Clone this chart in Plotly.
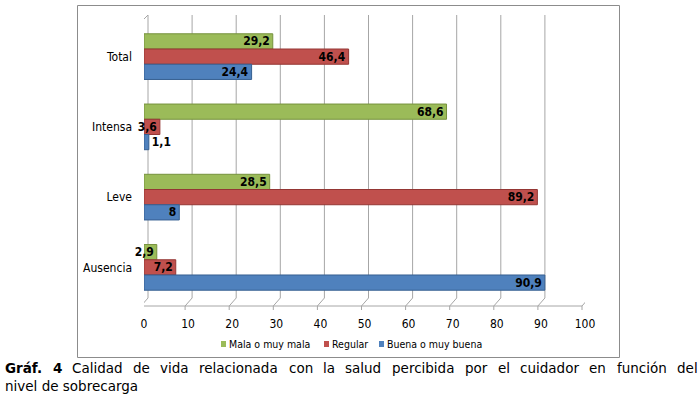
import plotly.graph_objects as go

categories = ["Total", "Intensa", "Leve", "Ausencia"]
series_names = ["Mala o muy mala", "Regular", "Buena o muy buena"]
mala = [29.2, 68.6, 28.5, 2.9]
regular = [46.4, 3.6, 89.2, 7.2]
buena = [24.4, 1.1, 8, 90.9]
x_ticks = [0, 10, 20, 30, 40, 50, 60, 70, 80, 90, 100]
caption_line1 = ["<b>Gráf.</b>", "<b>4</b>", "Calidad", "de", "vida", "relacionada", "con", "la", "salud",
                 "percibida", "por", "el", "cuidador", "en", "función", "del"]
caption_line2 = "nivel de sobrecarga"

colors = ["#9BBB59", "#C0504D", "#4F81BD"]
edge = ["#76923C", "#943634", "#365F91"]
values = [mala, regular, buena]

W, H = 698, 397
XD = [144 / W, 585 / W]
YD = [1 - 303 / H, 1 - 21 / H]
CF = "DejaVu Sans Condensed, Liberation Sans Narrow, Roboto Condensed, DejaVu Sans, sans-serif"

fig = go.Figure()
for name, vals, c, e in zip(series_names, values, colors, edge):
    pos = ["inside" if v > 2 else "outside" for v in vals]
    fig.add_trace(go.Bar(
        y=categories, x=vals, name=name, orientation="h", showlegend=False,
        marker=dict(color=c, line=dict(color=e, width=1)),
        texttemplate="%{x}", textposition=pos, insidetextanchor="end", textangle=0,
        constraintext="none", cliponaxis=False,
        textfont=dict(family=CF, size=12, color="black", weight="bold"),
    ))

fig.update_layout(
    width=W, height=H, margin=dict(l=0, r=0, t=0, b=0, autoexpand=False),
    paper_bgcolor="white", plot_bgcolor="rgba(0,0,0,0)",
    separators=",.",
    barmode="group", bargap=0.35, bargroupgap=0.0,
    showlegend=False,
    xaxis=dict(domain=XD, range=[0, 100], tickvals=x_ticks, showgrid=False, zeroline=False,
               showline=False, ticks="", ticklabelstandoff=12, automargin=False,
               tickfont=dict(family=CF, size=12, color="black")),
    yaxis=dict(domain=YD, autorange="reversed", showgrid=False, showline=False, ticks="",
               ticklabelstandoff=11, automargin=False,
               tickfont=dict(family=CF, size=12, color="black")),
)

# pseudo-3D back wall gridlines and floor
wall_top = 1 - 15 / H
wall_bot = 1 - 298 / H
floor = 1 - 306 / H
grid_col = "#A6A6A6"
for v in x_ticks:
    fig.add_shape(type="line", xref="x", yref="paper", xsizemode="pixel", xanchor=v,
                  x0=4, x1=4, y0=wall_bot, y1=wall_top, line=dict(color=grid_col, width=1), layer="below")
    fig.add_shape(type="line", xref="x", yref="paper", xsizemode="pixel", xanchor=v,
                  x0=-3, x1=4, y0=floor, y1=wall_bot, line=dict(color=grid_col, width=1), layer="below")
    fig.add_shape(type="line", xref="x", yref="paper", xsizemode="pixel", xanchor=v,
                  x0=-3, x1=-3, y0=floor, y1=floor - 4 / H, line=dict(color=grid_col, width=1))
# left front edge and top diagonal
fig.add_shape(type="line", xref="x", yref="paper", xsizemode="pixel", xanchor=0,
              x0=-3, x1=-3, y0=floor, y1=1 - 22 / H, line=dict(color=grid_col, width=1))
fig.add_shape(type="line", xref="x", yref="paper", xsizemode="pixel", xanchor=0,
              x0=-3, x1=4, y0=1 - 22 / H, y1=wall_top, line=dict(color=grid_col, width=1))
# front floor edge
fig.add_shape(type="line", xref="x", yref="paper", xsizemode="pixel", xanchor=0,
              x0=-3, x1=438, y0=floor, y1=floor, line=dict(color=grid_col, width=1))
for i in range(len(categories) + 1):
    yv = i - 0.5
    fig.add_shape(type="line", xref="x", yref="y", xsizemode="pixel", xanchor=0,
                  x0=-7, x1=-3, y0=yv, y1=yv, line=dict(color=grid_col, width=1))

# chart border
fig.add_shape(type="rect", xref="paper", yref="paper", x0=77.5 / W, x1=619.5 / W,
              y0=1 - 357.5 / H, y1=1 - 5.5 / H, line=dict(color="#8C8C8C", width=1))

# legend (small square markers close to text)
leg_x = [221, 324, 379]
leg_y = 1 - 344 / H
for name, c, lx in zip(series_names, colors, leg_x):
    fig.add_shape(type="rect", xref="paper", yref="paper", x0=lx / W, x1=(lx + 5) / W,
                  y0=leg_y - 3 / H, y1=leg_y + 3 / H, fillcolor=c, line=dict(width=0))
    fig.add_annotation(xref="paper", yref="paper", x=(lx + 7) / W, y=leg_y, xanchor="left",
                       yanchor="middle", showarrow=False, text=name, borderpad=0,
                       font=dict(family=CF, size=10.5, color="black"))

# caption (justified first line)
word_x = [4, 51.5, 71, 132, 159, 198, 287.5, 322, 344, 391, 464, 497, 519, 588, 615.5, 676]
cap_font = dict(family="DejaVu Sans, Verdana, sans-serif", size=13.5, color="black")
for w, wx in zip(caption_line1, word_x):
    fig.add_annotation(xref="paper", yref="paper", x=wx / W, y=1 - 368 / H,
                       xanchor="left", yanchor="middle",
                       showarrow=False, text=w, borderpad=0, font=cap_font)
fig.add_annotation(xref="paper", yref="paper", x=4 / W, y=1 - 386 / H, xanchor="left",
                   yanchor="middle", showarrow=False, text=caption_line2, borderpad=0, font=cap_font)

fig.write_html("out.html", config={"displayModeBar": False},
               post_script="document.body.style.margin='0px';")
